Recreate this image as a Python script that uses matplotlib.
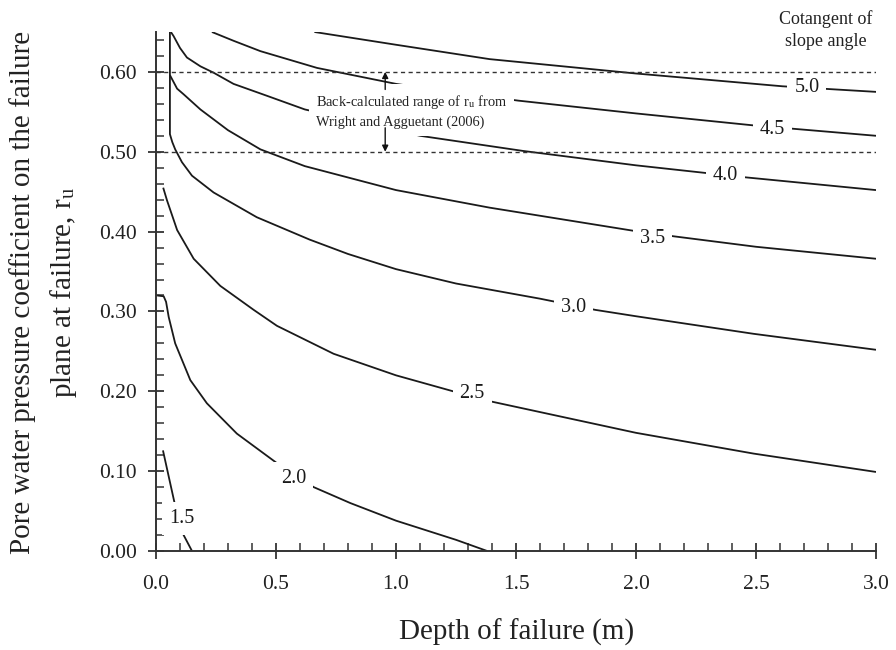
import matplotlib
matplotlib.use("Agg")
import matplotlib.pyplot as plt
from matplotlib.ticker import MultipleLocator, FormatStrFormatter

plt.rcParams['font.family'] = ['Liberation Serif', 'DejaVu Serif']
plt.rcParams['mathtext.fontset'] = 'stix'

# curves of constant cotangent of slope angle (depth in m, r_u)
depth_15 = [0.029, 0.076, 0.115, 0.15]
ru_15 = [0.126, 0.062, 0.020, 0.0]

depth_20 = [0.005, 0.032, 0.042, 0.053, 0.08, 0.143, 0.212, 0.337, 0.504, 0.657, 0.81, 1.0, 1.25, 1.38]
ru_20 = [0.320, 0.319, 0.312, 0.293, 0.260, 0.214, 0.185, 0.147, 0.110, 0.080, 0.060, 0.038, 0.014, 0.0]

depth_25 = [0.03, 0.046, 0.088, 0.157, 0.268, 0.407, 0.504, 0.74, 1.0, 1.25, 1.40, 2.0, 2.49, 3.0]
ru_25 = [0.455, 0.439, 0.402, 0.366, 0.332, 0.302, 0.282, 0.247, 0.220, 0.199, 0.187, 0.148, 0.122, 0.099]

depth_30 = [0.058, 0.058, 0.068, 0.08, 0.108, 0.15, 0.24, 0.42, 0.64, 0.80, 1.0, 1.25, 1.60, 1.83, 2.0, 2.49, 3.0]
ru_30 = [0.650, 0.522, 0.512, 0.503, 0.487, 0.470, 0.449, 0.418, 0.390, 0.372, 0.353, 0.335, 0.316, 0.302, 0.294, 0.272, 0.252]

depth_35 = [0.058, 0.088, 0.115, 0.185, 0.30, 0.435, 0.62, 1.0, 1.39, 1.99, 2.16, 2.50, 3.0]
ru_35 = [0.596, 0.579, 0.572, 0.553, 0.527, 0.503, 0.482, 0.452, 0.430, 0.401, 0.394, 0.381, 0.366]

depth_40 = [0.062, 0.073, 0.10, 0.129, 0.185, 0.24, 0.323, 0.463, 0.62, 1.10, 1.53, 2.0, 2.455, 3.0]
ru_40 = [0.650, 0.645, 0.630, 0.618, 0.607, 0.599, 0.585, 0.570, 0.553, 0.520, 0.501, 0.483, 0.468, 0.452]

depth_45 = [0.233, 0.323, 0.435, 0.671, 1.0, 1.157, 1.51, 2.0, 2.49, 3.0]
ru_45 = [0.650, 0.639, 0.626, 0.605, 0.585, 0.578, 0.564, 0.548, 0.533, 0.520]

depth_50 = [0.66, 1.0, 1.39, 2.0, 2.61, 3.0]
ru_50 = [0.650, 0.634, 0.616, 0.598, 0.582, 0.575]

curve_names = ['1.5', '2.0', '2.5', '3.0', '3.5', '4.0', '4.5', '5.0']
curve_x = [depth_15, depth_20, depth_25, depth_30, depth_35, depth_40, depth_45, depth_50]
curve_y = [ru_15, ru_20, ru_25, ru_30, ru_35, ru_40, ru_45, ru_50]
label_x = [0.108, 0.573, 1.317, 1.74, 2.067, 2.372, 2.567, 2.712]
label_y = [0.041, 0.091, 0.197, 0.305, 0.391, 0.470, 0.528, 0.580]

# back-calculated range of r_u
range_low = 0.50
range_high = 0.60

fig = plt.figure(figsize=(8.96, 6.5), dpi=100)
ax = fig.add_axes([0.1741, 0.1523, 0.8036, 0.7985])

for xs, ys in zip(curve_x, curve_y):
    ax.plot(xs, ys, color='#1a1a1a', lw=1.3, zorder=2, solid_capstyle='butt')

for name, lx, ly in zip(curve_names, label_x, label_y):
    ax.text(lx, ly, name, fontsize=14.5, ha='center', va='center', color='#1a1a1a',
            bbox=dict(facecolor='white', edgecolor='none', pad=5), zorder=2.3)

# dashed lines for r_u range
for yv in [range_low, range_high]:
    ax.axhline(yv, color='#333333', lw=1.0, ls=(0, (3, 2.5)), zorder=2.45)

ax.text(0.668, 0.551, 'Back-calculated range of r$_\\mathregular{u}$ from\nWright and Agguetant (2006)',
        fontsize=10.4, ha='left', va='center', color='#222222', linespacing=1.45,
        bbox=dict(facecolor='white', edgecolor='none', pad=5), zorder=2.35)
ax.annotate('', xy=(0.955, range_high), xytext=(0.955, 0.578),
            arrowprops=dict(arrowstyle='-|>', color='#111111', lw=1.0, mutation_scale=9,
                            shrinkA=0, shrinkB=0), zorder=3)
ax.annotate('', xy=(0.955, range_low), xytext=(0.955, 0.530),
            arrowprops=dict(arrowstyle='-|>', color='#111111', lw=1.0, mutation_scale=9,
                            shrinkA=0, shrinkB=0), zorder=3)

ax.text(2.79, 0.6525, 'Cotangent of\nslope angle', fontsize=13, ha='center', va='center',
        color='#222222', linespacing=1.4)

ax.set_xlim(0, 3.0)
ax.set_ylim(0, 0.65)
ax.xaxis.set_major_locator(MultipleLocator(0.5))
ax.xaxis.set_minor_locator(MultipleLocator(0.1))
ax.yaxis.set_major_locator(MultipleLocator(0.1))
ax.yaxis.set_minor_locator(MultipleLocator(0.02))
ax.xaxis.set_major_formatter(FormatStrFormatter('%.1f'))
ax.yaxis.set_major_formatter(FormatStrFormatter('%.2f'))

for side in ['top', 'right']:
    ax.spines[side].set_visible(False)
for side in ['left', 'bottom']:
    ax.spines[side].set_linewidth(1.4)
    ax.spines[side].set_color('#333333')

ax.tick_params(which='major', direction='inout', length=12, width=1.3, color='#333333',
               labelsize=15.5, labelcolor='#222222')
ax.tick_params(which='minor', direction='in', length=6, width=1.1, color='#333333')
ax.tick_params(axis='x', which='major', pad=11)
ax.tick_params(axis='y', which='major', pad=8)

fig.text(0.049, 0.5508, 'Pore water pressure coefficient on the failure\nplane at failure, r$_\\mathregular{u}$',
         rotation=90, fontsize=21, ha='center', va='center', color='#222222', linespacing=1.5)
fig.text(0.576, 1 - 632 / 650, 'Depth of failure (m)', fontsize=21, ha='center', va='center',
         color='#222222')

fig.savefig('out.png', dpi=100)
